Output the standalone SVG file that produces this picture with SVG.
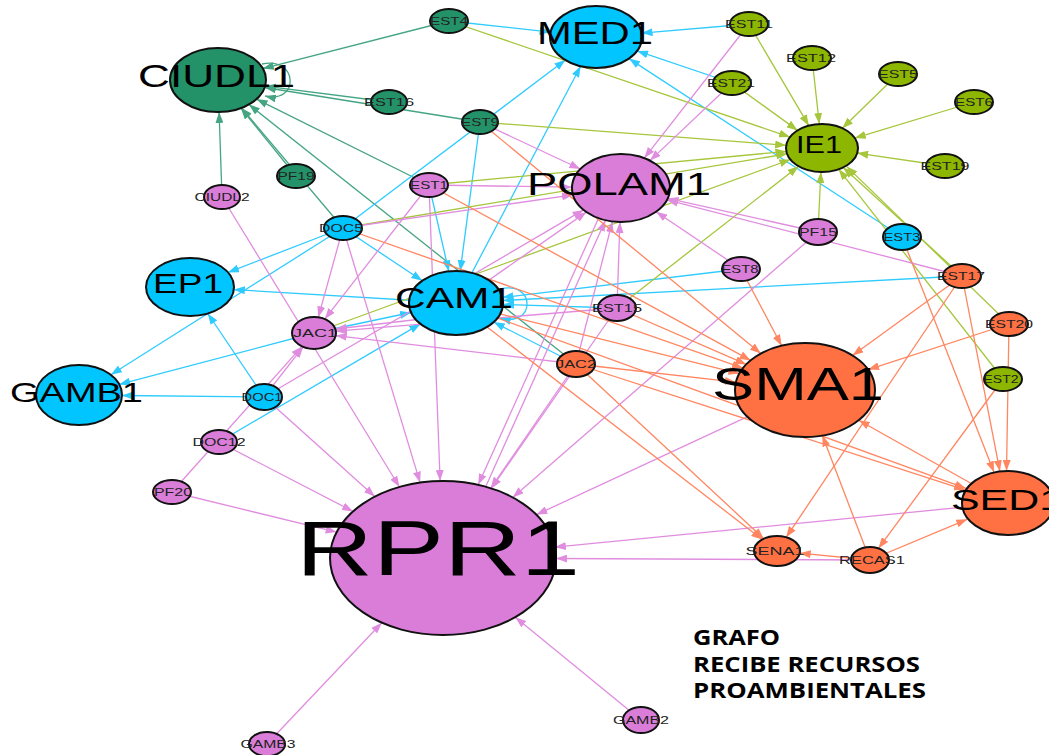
<svg xmlns="http://www.w3.org/2000/svg" width="1049" height="755" viewBox="0 0 1049 755">
<style>
.e{fill:none;stroke-width:1.3}
.g{stroke:#45a583;marker-end:url(#mg)}
.c{stroke:#2fcbff;marker-end:url(#mc)}
.l{stroke:#a6c63c;marker-end:url(#ml)}
.p{stroke:#e08ddf;marker-end:url(#mp)}
.o{stroke:#ff8660;marker-end:url(#mo)}
.n{stroke:#111;stroke-width:2}
.ng{fill:#249269}.nc{fill:#00c5ff}.nl{fill:#8db600}.np{fill:#da7dd8}.no{fill:#ff7043}
.s{font-family:"Liberation Sans",Arial,sans-serif;font-size:11px;fill:#222;text-anchor:middle}
.b{font-family:"Liberation Sans",Arial,sans-serif;fill:#000;text-anchor:middle}
.t{font-family:"Open Sans","Liberation Sans",sans-serif;font-weight:700;font-size:21px;fill:#000}
</style>
<defs>
<marker id="mg" viewBox="0 0 11 8" refX="11" refY="4" markerWidth="11" markerHeight="8" markerUnits="userSpaceOnUse" orient="auto"><path d="M0,0L11,4L0,8z" fill="#45a583"/></marker>
<marker id="mc" viewBox="0 0 11 8" refX="11" refY="4" markerWidth="11" markerHeight="8" markerUnits="userSpaceOnUse" orient="auto"><path d="M0,0L11,4L0,8z" fill="#2fcbff"/></marker>
<marker id="ml" viewBox="0 0 11 8" refX="11" refY="4" markerWidth="11" markerHeight="8" markerUnits="userSpaceOnUse" orient="auto"><path d="M0,0L11,4L0,8z" fill="#a6c63c"/></marker>
<marker id="mp" viewBox="0 0 11 8" refX="11" refY="4" markerWidth="11" markerHeight="8" markerUnits="userSpaceOnUse" orient="auto"><path d="M0,0L11,4L0,8z" fill="#e08ddf"/></marker>
<marker id="mo" viewBox="0 0 11 8" refX="11" refY="4" markerWidth="11" markerHeight="8" markerUnits="userSpaceOnUse" orient="auto"><path d="M0,0L11,4L0,8z" fill="#ff8660"/></marker>
</defs>
<rect width="1049" height="755" fill="#fff"/>
<g id="connectors">
<path class="e g" d="M449,21L262.8,68.6"/>
<path class="e g" d="M389,102L265.1,86.1"/>
<path class="e g" d="M480,122L264.7,87.5"/>
<path class="e g" d="M222,197L219.1,112"/>
<path class="e g" d="M296,176L240.9,108.1"/>
<path class="e g" d="M343,228L241.5,107.9"/>
<path class="e g" d="M576,364L248.9,104.5"/>
<path class="e g" d="M429,185L256.5,99.1"/>
<path class="e g" d="M262,64C298,56 300,104 265,96"/>
<path class="e c" d="M449,21L550.6,32.1"/>
<path class="e c" d="M749,24L641.6,33.1"/>
<path class="e c" d="M732,83L637.1,50.9"/>
<path class="e c" d="M902,237L629,58.6"/>
<path class="e c" d="M343,228L565.4,60.1"/>
<path class="e c" d="M456,303L580.6,66.2"/>
<path class="e c" d="M343,228L228,272.4"/>
<path class="e c" d="M456,303L233.8,289.6"/>
<path class="e c" d="M264,397L207.8,313.5"/>
<path class="e c" d="M343,228L110.9,374.8"/>
<path class="e c" d="M314,333L119.2,384.4"/>
<path class="e c" d="M264,397L122,395.5"/>
<path class="e c" d="M429,185L448.8,271.4"/>
<path class="e c" d="M480,122L460.2,271.1"/>
<path class="e c" d="M343,228L422.3,280.7"/>
<path class="e c" d="M314,333L411.1,312.5"/>
<path class="e c" d="M219,442L420.4,323.9"/>
<path class="e c" d="M576,364L493.7,322.1"/>
<path class="e c" d="M617,308L503,304.5"/>
<path class="e c" d="M741,269L502.3,297.5"/>
<path class="e c" d="M962,276L502.9,300.5"/>
<path class="e c" d="M500,289C536,280 536,328 500,318"/>
<path class="e l" d="M749,24L808.8,125.7"/>
<path class="e l" d="M812,58L819.3,124.1"/>
<path class="e l" d="M898,74L842.3,128.2"/>
<path class="e l" d="M974,102L854.8,138.1"/>
<path class="e l" d="M945,166L857.2,153.1"/>
<path class="e l" d="M732,83L797.6,130.4"/>
<path class="e l" d="M449,21L790,137.1"/>
<path class="e l" d="M480,122L786.2,145.3"/>
<path class="e l" d="M429,185L786.4,151.4"/>
<path class="e l" d="M343,228L787.1,153.8"/>
<path class="e l" d="M314,333L790.4,159.5"/>
<path class="e l" d="M617,308L798.6,166.3"/>
<path class="e l" d="M818,232L820.9,172"/>
<path class="e l" d="M962,276L843.2,167.4"/>
<path class="e l" d="M1009,324L846.8,166.6"/>
<path class="e l" d="M1003,379L838.7,169.3"/>
<path class="e p" d="M749,24L644.3,158.1"/>
<path class="e p" d="M732,83L650,160.6"/>
<path class="e p" d="M480,122L580.4,169"/>
<path class="e p" d="M429,185L572,187.2"/>
<path class="e p" d="M343,228L573,194.9"/>
<path class="e p" d="M264,397L583.5,209.9"/>
<path class="e p" d="M456,303L586.4,212.1"/>
<path class="e p" d="M486,486L605.5,220.3"/>
<path class="e p" d="M617,308L619.9,222"/>
<path class="e p" d="M576,364L612.4,221.5"/>
<path class="e p" d="M741,269L656.1,211.7"/>
<path class="e p" d="M818,232L667.6,198.4"/>
<path class="e p" d="M962,276L666.9,199.9"/>
<path class="e p" d="M172,492L336.6,532.1"/>
<path class="e p" d="M219,442L353,511.4"/>
<path class="e p" d="M264,397L374.8,496.6"/>
<path class="e p" d="M222,197L399.5,487"/>
<path class="e p" d="M343,228L420.1,482.6"/>
<path class="e p" d="M429,185L440.1,481"/>
<path class="e p" d="M600,215L478.2,484.8"/>
<path class="e p" d="M617,308L491.4,488.4"/>
<path class="e p" d="M576,364L490.8,488.2"/>
<path class="e p" d="M818,232L512.7,497.4"/>
<path class="e p" d="M805,390L536.4,514.7"/>
<path class="e p" d="M1006,503L554.9,547.1"/>
<path class="e p" d="M870,560L556,558.5"/>
<path class="e p" d="M267,744L381.8,622.7"/>
<path class="e p" d="M641,720L515.3,617.2"/>
<path class="e p" d="M343,228L318.3,317.3"/>
<path class="e p" d="M429,185L324.8,319.1"/>
<path class="e p" d="M430,318L335.6,329"/>
<path class="e p" d="M617,308L335.9,331.2"/>
<path class="e p" d="M576,364L335.7,335.6"/>
<path class="e p" d="M264,397L303.1,346.9"/>
<path class="e p" d="M172,492L302,346.4"/>
<path class="e o" d="M429,185L750.7,360.4"/>
<path class="e o" d="M480,122L760.8,353.6"/>
<path class="e o" d="M343,228L743,368.2"/>
<path class="e o" d="M456,303L739.4,373.6"/>
<path class="e o" d="M617,308L746.3,364.4"/>
<path class="e o" d="M576,364L736,382.2"/>
<path class="e o" d="M741,269L781.6,345.7"/>
<path class="e o" d="M962,276L852.5,355.5"/>
<path class="e o" d="M1009,324L868.1,369.6"/>
<path class="e o" d="M1006,503L858.7,420.2"/>
<path class="e o" d="M870,560L822.4,435.5"/>
<path class="e o" d="M902,237L994,472.2"/>
<path class="e o" d="M962,276L999.9,471.3"/>
<path class="e o" d="M1009,324L1006.5,471"/>
<path class="e o" d="M576,364L965,489.8"/>
<path class="e o" d="M456,303L966,488.4"/>
<path class="e o" d="M870,560L967.2,519.3"/>
<path class="e o" d="M456,303L762.2,539.5"/>
<path class="e o" d="M576,364L763.8,538.7"/>
<path class="e o" d="M962,276L786.2,537.3"/>
<path class="e o" d="M870,560L799.7,553.2"/>
<path class="e o" d="M1003,379L878.5,548.4"/>
</g>
<g id="CIUDL2"><ellipse class="n np" cx="222" cy="197" rx="18" ry="12"/><text class="s" x="222" y="201" textLength="55" lengthAdjust="spacingAndGlyphs">CIUDL2</text></g>
<g id="EST4"><ellipse class="n ng" cx="449" cy="21" rx="19" ry="12"/><text class="s" x="449" y="25" textLength="38" lengthAdjust="spacingAndGlyphs">EST4</text></g>
<g id="EST16"><ellipse class="n ng" cx="389" cy="102" rx="18" ry="12"/><text class="s" x="389" y="106" textLength="50" lengthAdjust="spacingAndGlyphs">EST16</text></g>
<g id="EST9"><ellipse class="n ng" cx="480" cy="122" rx="18" ry="12"/><text class="s" x="480" y="126" textLength="38" lengthAdjust="spacingAndGlyphs">EST9</text></g>
<g id="PF19"><ellipse class="n ng" cx="296" cy="176" rx="19" ry="12"/><text class="s" x="296" y="180" textLength="37" lengthAdjust="spacingAndGlyphs">PF19</text></g>
<g id="EST1"><ellipse class="n np" cx="429" cy="185" rx="19" ry="12"/><text class="s" x="429" y="189" textLength="38" lengthAdjust="spacingAndGlyphs">EST1</text></g>
<g id="DOC5"><ellipse class="n nc" cx="343" cy="228" rx="19" ry="12"/><text class="s" x="341" y="232" textLength="44" lengthAdjust="spacingAndGlyphs">DOC5</text></g>
<g id="EST11"><ellipse class="n nl" cx="749" cy="24" rx="19" ry="12"/><text class="s" x="749" y="28" textLength="48" lengthAdjust="spacingAndGlyphs">EST11</text></g>
<g id="EST12"><ellipse class="n nl" cx="812" cy="58" rx="19" ry="12"/><text class="s" x="811" y="62" textLength="50" lengthAdjust="spacingAndGlyphs">EST12</text></g>
<g id="EST5"><ellipse class="n nl" cx="898" cy="74" rx="19" ry="12"/><text class="s" x="898" y="78" textLength="40" lengthAdjust="spacingAndGlyphs">EST5</text></g>
<g id="EST6"><ellipse class="n nl" cx="974" cy="102" rx="19" ry="12"/><text class="s" x="974" y="106" textLength="38" lengthAdjust="spacingAndGlyphs">EST6</text></g>
<g id="EST21"><ellipse class="n nl" cx="732" cy="83" rx="19" ry="12"/><text class="s" x="731" y="87" textLength="48" lengthAdjust="spacingAndGlyphs">EST21</text></g>
<g id="EST19"><ellipse class="n nl" cx="945" cy="166" rx="19" ry="12"/><text class="s" x="945" y="170" textLength="49" lengthAdjust="spacingAndGlyphs">EST19</text></g>
<g id="PF15"><ellipse class="n np" cx="818" cy="232" rx="19" ry="13"/><text class="s" x="818" y="236" textLength="38" lengthAdjust="spacingAndGlyphs">PF15</text></g>
<g id="EST3"><ellipse class="n nc" cx="902" cy="237" rx="19" ry="13"/><text class="s" x="902" y="241" textLength="37" lengthAdjust="spacingAndGlyphs">EST3</text></g>
<g id="EST8"><ellipse class="n np" cx="741" cy="269" rx="19" ry="12"/><text class="s" x="740" y="273" textLength="37" lengthAdjust="spacingAndGlyphs">EST8</text></g>
<g id="EST17"><ellipse class="n no" cx="962" cy="276" rx="19" ry="12"/><text class="s" x="961" y="280" textLength="48" lengthAdjust="spacingAndGlyphs">EST17</text></g>
<g id="EST15"><ellipse class="n np" cx="617" cy="308" rx="19" ry="13"/><text class="s" x="617" y="312" textLength="50" lengthAdjust="spacingAndGlyphs">EST15</text></g>
<g id="EST20"><ellipse class="n no" cx="1009" cy="324" rx="19" ry="12"/><text class="s" x="1009" y="328" textLength="48" lengthAdjust="spacingAndGlyphs">EST20</text></g>
<g id="JAC1"><ellipse class="n np" cx="314" cy="333" rx="22" ry="16"/><text class="s" x="315" y="337" textLength="44" lengthAdjust="spacingAndGlyphs">JAC1</text></g>
<g id="JAC2"><ellipse class="n no" cx="576" cy="364" rx="19" ry="13"/><text class="s" x="576" y="368" textLength="40" lengthAdjust="spacingAndGlyphs">JAC2</text></g>
<g id="EST2"><ellipse class="n nl" cx="1003" cy="379" rx="19" ry="12"/><text class="s" x="1001" y="383" textLength="35" lengthAdjust="spacingAndGlyphs">EST2</text></g>
<g id="DOC1"><ellipse class="n nc" cx="264" cy="397" rx="18" ry="13"/><text class="s" x="262" y="401" textLength="41" lengthAdjust="spacingAndGlyphs">DOC1</text></g>
<g id="DOC12"><ellipse class="n np" cx="219" cy="442" rx="18" ry="12"/><text class="s" x="219" y="446" textLength="53" lengthAdjust="spacingAndGlyphs">DOC12</text></g>
<g id="PF20"><ellipse class="n np" cx="172" cy="492" rx="19" ry="12"/><text class="s" x="173" y="496" textLength="38" lengthAdjust="spacingAndGlyphs">PF20</text></g>
<g id="SENA1"><ellipse class="n no" cx="777" cy="551" rx="23" ry="15"/><text class="s" x="775" y="555" textLength="59" lengthAdjust="spacingAndGlyphs">SENA1</text></g>
<g id="RECAS1"><ellipse class="n no" cx="870" cy="560" rx="19" ry="13"/><text class="s" x="872" y="564" textLength="66" lengthAdjust="spacingAndGlyphs">RECAS1</text></g>
<g id="GAMB2"><ellipse class="n np" cx="641" cy="720" rx="18" ry="13"/><text class="s" x="641" y="724" textLength="56" lengthAdjust="spacingAndGlyphs">GAMB2</text></g>
<g id="GAMB3"><ellipse class="n np" cx="267" cy="744" rx="18" ry="12"/><text class="s" x="268" y="748" textLength="55" lengthAdjust="spacingAndGlyphs">GAMB3</text></g>
<g id="CIUDL1"><ellipse class="n ng" cx="218" cy="80" rx="48" ry="32"/><text class="b" x="216.5" y="87" font-size="31" textLength="157" lengthAdjust="spacingAndGlyphs">CIUDL1</text></g>
<g id="MED1"><ellipse class="n nc" cx="596" cy="37" rx="46" ry="31"/><text class="b" x="595" y="44" font-size="31" textLength="116" lengthAdjust="spacingAndGlyphs">MED1</text></g>
<g id="IE1"><ellipse class="n nl" cx="822" cy="148" rx="36" ry="24"/><text class="b" x="819" y="153" font-size="23" textLength="46" lengthAdjust="spacingAndGlyphs">IE1</text></g>
<g id="POLAM1"><ellipse class="n np" cx="621" cy="188" rx="49" ry="34"/><text class="b" x="619" y="195" font-size="31" textLength="184" lengthAdjust="spacingAndGlyphs">POLAM1</text></g>
<g id="EP1"><ellipse class="n nc" cx="190" cy="287" rx="44" ry="29"/><text class="b" x="188" y="293" font-size="28" textLength="70" lengthAdjust="spacingAndGlyphs">EP1</text></g>
<g id="CAM1"><ellipse class="n nc" cx="456" cy="303" rx="47" ry="32"/><text class="b" x="454" y="308" font-size="30" textLength="118" lengthAdjust="spacingAndGlyphs">CAM1</text></g>
<g id="GAMB1"><ellipse class="n nc" cx="79" cy="395" rx="43" ry="30"/><text class="b" x="76.5" y="402" font-size="28" textLength="133" lengthAdjust="spacingAndGlyphs">GAMB1</text></g>
<g id="SMA1"><ellipse class="n no" cx="805" cy="390" rx="70" ry="47"/><text class="b" x="798" y="400" font-size="46" textLength="172" lengthAdjust="spacingAndGlyphs">SMA1</text></g>
<g id="SED1"><ellipse class="n no" cx="1008" cy="503" rx="46" ry="32"/><text class="b" x="951" y="510" font-size="30" text-anchor="start" style="text-anchor:start" textLength="112" lengthAdjust="spacingAndGlyphs">SED1</text></g>
<g id="RPR1"><ellipse class="n np" cx="443" cy="558" rx="113" ry="77"/><text class="b" x="438" y="575" font-size="77" textLength="284" lengthAdjust="spacingAndGlyphs">RPR1</text></g>
<g id="caption">
<text class="t" x="693" y="645" textLength="87" lengthAdjust="spacingAndGlyphs">GRAFO</text>
<text class="t" x="693" y="672" textLength="227" lengthAdjust="spacingAndGlyphs">RECIBE RECURSOS</text>
<text class="t" x="693" y="698" textLength="233" lengthAdjust="spacingAndGlyphs">PROAMBIENTALES</text>
</g>
</svg>
